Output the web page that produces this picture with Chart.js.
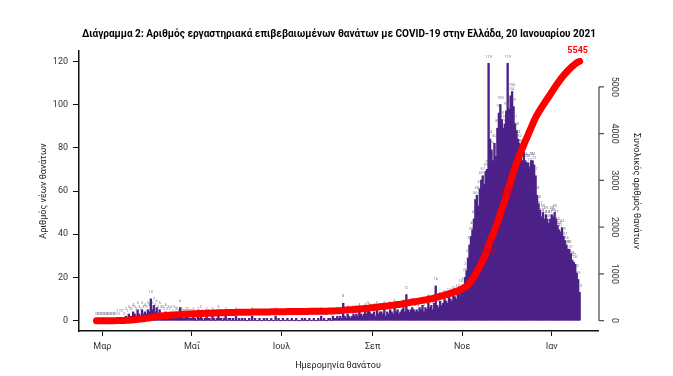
<!DOCTYPE html>
<html>
<head>
<meta charset="utf-8">
<script src="https://cdn.jsdelivr.net/npm/chart.js@4.4.1/dist/chart.umd.min.js"></script>
<style>
  body { margin: 0; background: #fff; }
  #wrap { width: 673px; height: 376px; position: relative; }
</style>
</head>
<body>
<div id="wrap"><canvas id="myChart"></canvas></div>
<script>
// Ημερήσιοι θάνατοι ανά ημέρα θανάτου, 26 Φεβ 2020 - 20 Ιαν 2021
var startDate = '2020-02-26';
var febDeaths = [0, 0, 0, 0];
var marDeaths = [0, 0, 0, 0, 0, 0, 0, 0, 0, 0, 1, 0, 1, 1, 1, 0, 2, 1, 3, 2, 2, 4, 3, 2, 5, 3, 2, 5, 3, 4, 3];
var aprDeaths = [5, 4, 10, 5, 7, 4, 6, 3, 5, 3, 3, 2, 4, 2, 3, 2, 3, 1, 3, 2, 2, 1, 6, 2, 1, 1, 2, 2, 1, 1];
var mayDeaths = [1, 2, 1, 0, 2, 1, 3, 1, 0, 1, 2, 1, 1, 0, 2, 1, 0, 1, 3, 1, 1, 0, 1, 2, 0, 1, 1, 0, 1, 0, 2];
var junDeaths = [0, 1, 0, 1, 0, 1, 0, 0, 1, 0, 2, 0, 1, 0, 0, 1, 0, 0, 1, 0, 1, 0, 0, 1, 0, 0, 2, 0, 1, 0];
var julDeaths = [0, 1, 0, 0, 1, 0, 0, 1, 0, 0, 1, 0, 0, 0, 1, 0, 1, 0, 0, 1, 0, 0, 1, 0, 0, 1, 0, 2, 0, 1, 0];
var augDeaths = [0, 1, 1, 0, 2, 1, 1, 2, 1, 2, 1, 8, 2, 1, 3, 2, 1, 2, 3, 2, 3, 2, 4, 3, 2, 3, 4, 3, 5, 4, 3];
var sepDeaths = [3, 4, 2, 5, 3, 4, 4, 3, 5, 2, 4, 3, 5, 4, 3, 6, 4, 5, 3, 4, 5, 6, 4, 12, 5, 4, 5, 6, 5, 4];
var octDeaths = [5, 4, 6, 5, 7, 4, 6, 5, 8, 6, 7, 5, 8, 16, 7, 6, 9, 7, 8, 10, 9, 8, 11, 10, 9, 12, 11, 10, 13, 12, 15];
var novDeaths = [13, 16, 20, 23, 29, 35, 39, 42, 47, 56, 58, 53, 61, 65, 67, 63, 69, 70, 119, 84, 79, 74, 82, 76, 89, 96, 100, 93, 89, 91];
var decDeaths = [97, 119, 98, 104, 106, 99, 91, 88, 84, 82, 80, 74, 78, 74, 73, 73, 71, 74, 74, 72, 67, 58, 54, 51, 48, 50, 47, 49, 47, 45, 47];
var janDeaths = [49, 48, 50, 47, 44, 42, 41, 43, 39, 37, 35, 33, 33, 31, 28, 27, 26, 22, 19, 13];

var monthLabels = ['Μαρ', 'Μαΐ', 'Ιουλ', 'Σεπ', 'Νοε', 'Ιαν'];
var monthTickDates = ['2020-03-01', '2020-05-01', '2020-07-01', '2020-09-01', '2020-11-01', '2021-01-01'];
var leftTicks = [0, 20, 40, 60, 80, 100, 120];
var rightTicks = [0, 1000, 2000, 3000, 4000, 5000];
var markedDates = ['2020-11-18', '2020-12-02'];

var titleText = 'Διάγραμμα 2: Αριθμός εργαστηριακά επιβεβαιωμένων θανάτων με COVID-19 στην Ελλάδα, 20 Ιανουαρίου 2021';

function dayIndex(d) {
  return Math.round((Date.parse(d) - Date.parse(startDate)) / 86400000);
}

var daily = [].concat(febDeaths, marDeaths, aprDeaths, mayDeaths, junDeaths, julDeaths,
  augDeaths, sepDeaths, octDeaths, novDeaths, decDeaths, janDeaths);
var cumulative = [];
var run = 0;
daily.forEach(function (v) { run += v; cumulative.push(run); });
var total = run;

var tickDays = monthTickDates.map(dayIndex);
var mar1 = tickDays[0];

var FONT = 'Roboto, "Liberation Sans", sans-serif';

var decor = {
  id: 'decor',
  afterDatasetDraw: function (chart, args) {
    if (args.index !== 0) return;
    var ctx = chart.ctx;
    ctx.save();
    ctx.font = '4px ' + FONT;
    ctx.fillStyle = 'rgba(80,70,105,0.75)';
    ctx.textAlign = 'center';
    ctx.textBaseline = 'middle';
    args.meta.data.forEach(function (bar, i) {
      ctx.fillText(String(daily[i]), bar.x, bar.y - 7);
    });
    ctx.restore();
  },
  afterDraw: function (chart) {
    var ctx = chart.ctx;
    var x = chart.scales.x;
    var y1 = chart.scales.y1;
    ctx.save();

    // τίτλος
    ctx.fillStyle = '#000';
    ctx.textAlign = 'center';
    ctx.textBaseline = 'middle';
    ctx.font = 'bold 11px ' + FONT;
    var size = 11 * 515 / ctx.measureText(titleText).width;
    ctx.font = 'bold ' + size.toFixed(2) + 'px ' + FONT;
    ctx.fillText(titleText, 339, 34);

    // δεξιός άξονας
    var ax = chart.chartArea.right + 1;
    ctx.strokeStyle = '#555';
    ctx.lineWidth = 1.3;
    ctx.beginPath();
    ctx.moveTo(ax, y1.getPixelForValue(rightTicks[0]));
    ctx.lineTo(ax, y1.getPixelForValue(rightTicks[rightTicks.length - 1]));
    ctx.stroke();
    ctx.font = '9px ' + FONT;
    ctx.fillStyle = '#333';
    rightTicks.forEach(function (v) {
      var py = y1.getPixelForValue(v);
      ctx.beginPath();
      ctx.moveTo(ax, py);
      ctx.lineTo(ax + 5, py);
      ctx.stroke();
      ctx.save();
      ctx.translate(ax + 15, py);
      ctx.rotate(Math.PI / 2);
      ctx.fillText(String(v), 0, 0);
      ctx.restore();
    });

    // τίτλοι αξόνων
    ctx.font = '9px ' + FONT;
    ctx.fillStyle = '#222';
    ctx.save();
    ctx.translate(44, 191);
    ctx.rotate(-Math.PI / 2);
    ctx.fillText('Αριθμός νέων θανάτων', 0, 0);
    ctx.restore();
    ctx.save();
    ctx.translate(636, 191);
    ctx.rotate(Math.PI / 2);
    ctx.fillText('Συνολικός αριθμός θανάτων', 0, 0);
    ctx.restore();
    ctx.fillText('Ημερομηνία θανάτου', 338, 366);

    // ετικέτες σωρευτικής γραμμής
    ctx.font = '7.5px ' + FONT;
    ctx.fillStyle = 'rgba(190,0,50,0.9)';
    markedDates.forEach(function (d) {
      var i = dayIndex(d);
      ctx.fillText(String(cumulative[i]), x.getPixelForValue(i), y1.getPixelForValue(cumulative[i]));
    });
    var last = cumulative.length - 1;
    ctx.font = 'bold 9px ' + FONT;
    ctx.fillStyle = '#ff0000';
    ctx.fillText(String(total), x.getPixelForValue(last) - 2, y1.getPixelForValue(total) - 11);
    ctx.restore();
  }
};

var ctx = document.getElementById('myChart').getContext('2d');
var myChart = new Chart(ctx, {
  type: 'bar',
  data: {
    datasets: [
      {
        type: 'bar',
        label: 'Νέοι θάνατοι',
        data: daily.map(function (v, i) { return { x: i, y: v }; }),
        backgroundColor: '#4c2188',
        borderWidth: 0,
        barPercentage: 1,
        categoryPercentage: 1,
        inflateAmount: 0.45,
        yAxisID: 'y',
        order: 1
      },
      {
        type: 'line',
        label: 'Συνολικοί θάνατοι',
        data: cumulative.map(function (v, i) { return { x: i, y: v }; }),
        borderColor: '#ff0000',
        borderWidth: 7,
        borderCapStyle: 'round',
        borderJoinStyle: 'round',
        pointRadius: 0,
        tension: 0,
        yAxisID: 'y1',
        order: 0
      }
    ]
  },
  options: {
    responsive: true,
    maintainAspectRatio: false,
    animation: false,
    layout: { padding: { top: 51, left: 0, right: 0, bottom: 0 } },
    plugins: {
      legend: { display: false },
      tooltip: { enabled: false },
      title: { display: false }
    },
    scales: {
      x: {
        type: 'linear',
        offset: false,
        min: mar1 - 15.9,
        max: mar1 + 337.5,
        afterBuildTicks: function (s) { s.ticks = tickDays.map(function (v) { return { value: v }; }); },
        afterFit: function (s) { s.height = 45; },
        grid: { display: true, offset: false, drawOnChartArea: false, drawTicks: true, tickLength: 5, color: '#111' },
        border: { display: true, color: '#111', width: 1.5 },
        ticks: {
          autoSkip: false, maxRotation: 0, minRotation: 0, padding: 5,
          color: '#333', font: { size: 9, family: FONT },
          callback: function (v, i) { return monthLabels[i]; }
        }
      },
      y: {
        position: 'left',
        min: -4.8,
        max: 124.8,
        afterBuildTicks: function (s) { s.ticks = leftTicks.map(function (v) { return { value: v }; }); },
        afterFit: function (s) { s.width = 79; },
        grid: { display: true, drawOnChartArea: false, drawTicks: true, tickLength: 6, color: '#111' },
        border: { display: true, color: '#111', width: 1.5 },
        ticks: { padding: 5, color: '#333', font: { size: 9, family: FONT } }
      },
      y1: {
        position: 'right',
        min: -0.04 * 5545,
        max: 1.04 * 5545,
        afterFit: function (s) { s.width = 75; },
        grid: { display: false },
        border: { display: false },
        ticks: { display: false }
      }
    }
  },
  plugins: [decor]
});
</script>
</body>
</html>
